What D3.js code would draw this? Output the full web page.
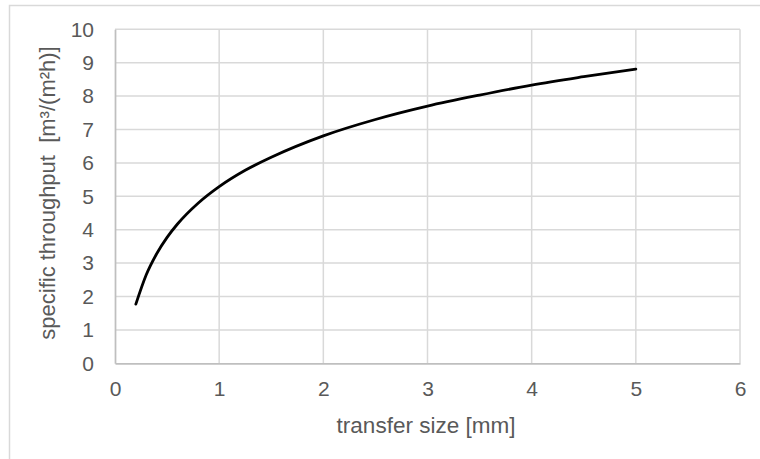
<!DOCTYPE html>
<html>
<head>
<meta charset="utf-8">
<script src="https://cdn.jsdelivr.net/npm/d3@7"></script>
<style>
  html, body { margin: 0; padding: 0; background: #fff; }
  svg { display: block; }
  text { font-family: "Liberation Sans", Arial, sans-serif; fill: #595959; }
</style>
</head>
<body>
<svg id="chart" width="760" height="459"></svg>
<script>
// Data
const transferSize = [0.2, 0.3, 0.4, 0.5, 0.6, 0.8, 1.0, 1.25, 1.5, 2.0, 2.5, 3.0, 3.5, 4.0, 4.5, 5.0];
const throughput   = [1.77, 2.65, 3.28, 3.77, 4.17, 4.80, 5.29, 5.78, 6.17, 6.81, 7.30, 7.70, 8.03, 8.33, 8.58, 8.81];
const xTicks = [0, 1, 2, 3, 4, 5, 6];
const yTicks = [0, 1, 2, 3, 4, 5, 6, 7, 8, 9, 10];
const xTitle = "transfer size [mm]";
const yTitle = "specific throughput\u00a0\u00a0[m³/(m²h)]";

const svg = d3.select("#chart");
const pLeft = 115, pRight = 740, pTop = 29.3, pBottom = 363.3;

const x = d3.scaleLinear().domain([0, 6]).range([pLeft, pRight]);
const y = d3.scaleLinear().domain([0, 10]).range([pBottom, pTop]);

// outer chart border
svg.append("rect")
  .attr("x", 9.5).attr("y", 5.5).attr("width", 780).attr("height", 480)
  .attr("fill", "none").attr("stroke", "#d9d9d9").attr("stroke-width", 1.5);

// gridlines
const grid = svg.append("g");
grid.selectAll("line.h").data(yTicks.filter(d => d > 0)).join("line")
  .attr("class", "h")
  .attr("x1", pLeft).attr("x2", pRight)
  .attr("y1", d => y(d)).attr("y2", d => y(d))
  .attr("stroke", "#d9d9d9").attr("stroke-width", 1.5);
grid.selectAll("line.v").data(xTicks.filter(d => d > 0)).join("line")
  .attr("class", "v")
  .attr("y1", pTop).attr("y2", pBottom)
  .attr("x1", d => x(d)).attr("x2", d => x(d))
  .attr("stroke", "#d9d9d9").attr("stroke-width", 1.5);

// axes
const xAxis = svg.append("g").attr("transform", `translate(0,${pBottom})`)
  .call(d3.axisBottom(x).tickValues(xTicks).tickSize(0).tickPadding(18).tickFormat(d3.format("d")));
const yAxis = svg.append("g").attr("transform", `translate(${pLeft},0)`)
  .call(d3.axisLeft(y).tickValues(yTicks).tickSize(0).tickPadding(21).tickFormat(d3.format("d")));
[xAxis, yAxis].forEach(a => {
  a.select(".domain").attr("stroke", "#bfbfbf").attr("stroke-width", 1.75);
  a.selectAll("text").style("font-size", "21px").style("fill", "#595959")
    .style("font-family", "'Liberation Sans', Arial, sans-serif");
});

// line
const line = d3.line().x((d, i) => x(transferSize[i])).y(d => y(d)).curve(d3.curveMonotoneX);
svg.append("path").datum(throughput)
  .attr("d", line).attr("fill", "none")
  .attr("stroke", "#000").attr("stroke-width", 2.8).attr("stroke-linecap", "round");

// axis titles
svg.append("text").attr("x", 426).attr("y", 433)
  .attr("text-anchor", "middle").style("font-size", "22.5px").text(xTitle);
svg.append("text").attr("transform", `translate(55,193) rotate(-90)`)
  .attr("text-anchor", "middle").style("font-size", "22px").text(yTitle);
</script>
</body>
</html>
